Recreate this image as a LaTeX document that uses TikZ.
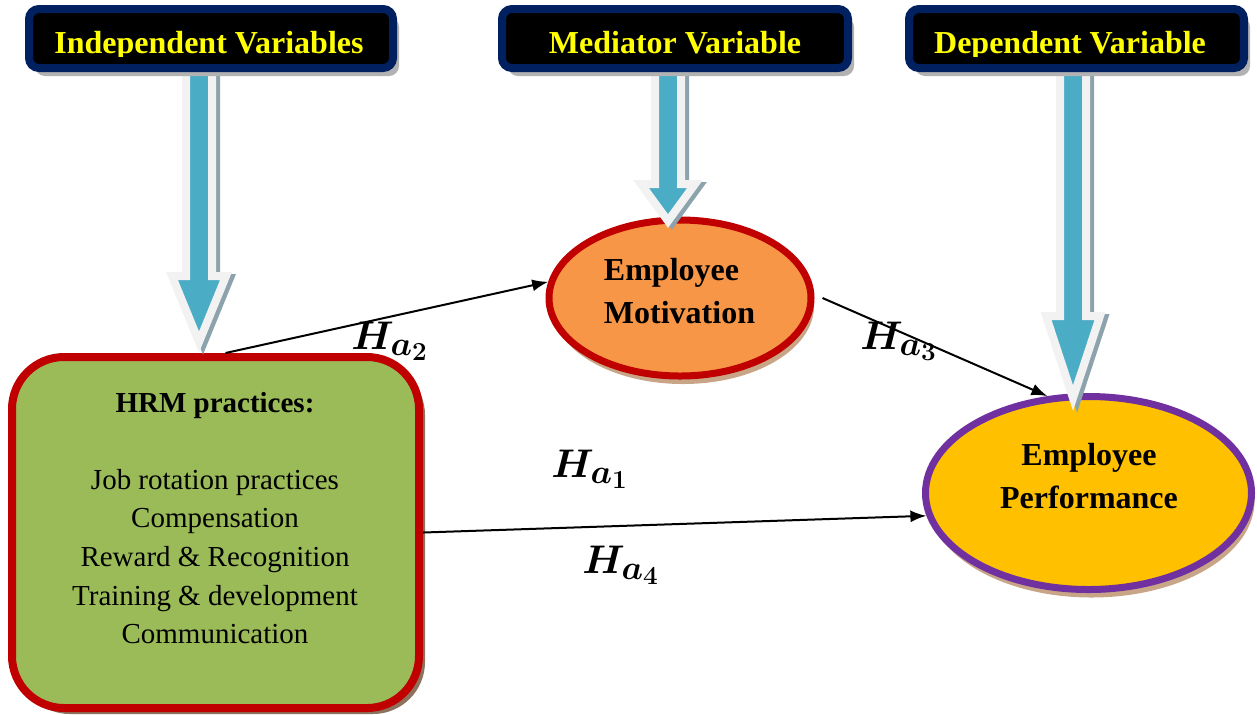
\RequirePackage{fix-cm}
\documentclass[tikz,border=0pt]{standalone}
\usepackage{fontspec}
\setmainfont{Liberation Serif}
\usepackage{amsmath}
\usepackage{xcolor}
\usepackage{tikz}
\usetikzlibrary{shapes.geometric}
\usetikzlibrary{shadows}
\usetikzlibrary{arrows.meta}
\DeclareMathSizes{20}{20}{17}{13}

\definecolor{hdrnavy}{RGB}{0,32,96}
\definecolor{hdryellow}{RGB}{255,255,0}
\definecolor{arrowblue}{RGB}{75,172,198}
\definecolor{arrowrim}{RGB}{242,242,242}
\definecolor{arrowshade}{RGB}{140,162,172}
\definecolor{boxred}{RGB}{192,0,0}
\definecolor{hrmgreen}{RGB}{155,187,89}
\definecolor{motivorange}{RGB}{247,150,70}
\definecolor{perfgold}{RGB}{255,192,0}
\definecolor{perfpurple}{RGB}{112,48,160}
\definecolor{shadetan}{RGB}{200,165,135}

% x, top, start of head, tip
\newcommand{\blockarrow}[4]{%
	\draw[arrowshade,fill=arrowshade,line width=4pt,xshift=2pt,yshift=-1pt]
		(#1-13,#2) -- (#1-13,#3) -- (#1-27,#3) -- (#1,#4) -- (#1+27,#3) -- (#1+13,#3) -- (#1+13,#2) -- cycle;
	\draw[arrowrim,fill=arrowblue,line width=4pt]
		(#1-13,#2) -- (#1-13,#3) -- (#1-27,#3) -- (#1,#4) -- (#1+27,#3) -- (#1+13,#3) -- (#1+13,#2) -- cycle;
}

\begin{document}
\begin{tikzpicture}[x=0.5pt,y=-0.5pt,
	hdr/.style={draw=hdrnavy,line width=4pt,fill=black,rounded corners=5pt,minimum height=29.5pt,inner sep=0pt,
		drop shadow={shadow xshift=3pt,shadow yshift=-4pt,fill=black!30,opacity=1}},
	hdrlbl/.style={text=hdryellow,font=\fontsize{16}{19}\selectfont\bfseries,anchor=base,inner sep=0pt},
	hrmbox/.style={draw=boxred,line width=4pt,fill=hrmgreen,rounded corners=26pt,minimum width=203.5pt,minimum height=175.5pt,inner sep=0pt,
		drop shadow={shadow xshift=3pt,shadow yshift=-3pt,fill=black!30!shadetan,opacity=1}},
	oval/.style={ellipse,line width=3.5pt,inner sep=0pt,
		drop shadow={shadow xshift=1.5pt,shadow yshift=-4pt,fill=shadetan,opacity=1}},
	ovallbl/.style={font=\fontsize{16}{21.5}\selectfont\bfseries,inner sep=0pt},
	link/.style={line width=1pt,-{Latex[length=8pt,width=6pt]}},
	hyp/.style={font=\fontsize{20}{24}\selectfont\boldmath,inner sep=0pt}]
	\useasboundingbox (0,0) rectangle (1257,714);
	
	\node[hrmbox] (hrm) at (215.5,532.5) {};
	\node[align=center,font=\fontsize{14.5}{19.3}\selectfont,inner sep=0pt] (hrmtext) at (215,518)
		{{\bfseries HRM practices:}\\[19.3pt]Job rotation practices\\Compensation\\Reward \& Recognition\\Training \& development\\Communication};
	
	\node[oval,draw=boxred,fill=motivorange,minimum width=131pt,minimum height=78pt] (motiv) at (680,298) {};
	\node[ovallbl,align=left] (motivtext) at (679.5,290.7) {Employee\\Motivation};
	
	\node[oval,draw=perfpurple,fill=perfgold,minimum width=163pt,minimum height=96.5pt] (perf) at (1088.5,493) {};
	\node[ovallbl,align=center] (perftext) at (1089,475.7) {Employee\\Performance};
	
	\blockarrow{199}{60}{276}{342}
	\blockarrow{668}{60}{184}{221}
	\blockarrow{1073}{60}{316}{398}
	
	\node[hdr,minimum width=182pt] (indep) at (211,38.5) {};
	\node[hdr,minimum width=173pt] (medi) at (675,38.5) {};
	\node[hdr,minimum width=167.5pt] (dep) at (1076.5,38.5) {};
	\begin{scope}
		\clip (0,0) rectangle (1257,56);
		\node[hdrlbl] (indeplbl) at (209,53.5) {Independent Variables};
		\node[hdrlbl] (medilbl) at (675,53.5) {Mediator Variable};
		\node[hdrlbl] (deplbl) at (1070,53.5) {Dependent Variable};
	\end{scope}
	
	\draw[link] ([xshift=5pt]hrm.north) -- (motiv.173);
	\draw[link] ([xshift=4pt]motiv.east) -- (perf.113);
	\draw[link] (hrm.east) -- (perf.188);
	
	\node[hyp] (ha2) at (390,341) {$H_{a_2}$};
	\node[hyp] (ha3) at (899,341) {$H_{a_3}$};
	\node[hyp] (ha1) at (590,469) {$H_{a_1}$};
	\node[hyp] (ha4) at (621,565) {$H_{a_4}$};
\end{tikzpicture}
\end{document}
